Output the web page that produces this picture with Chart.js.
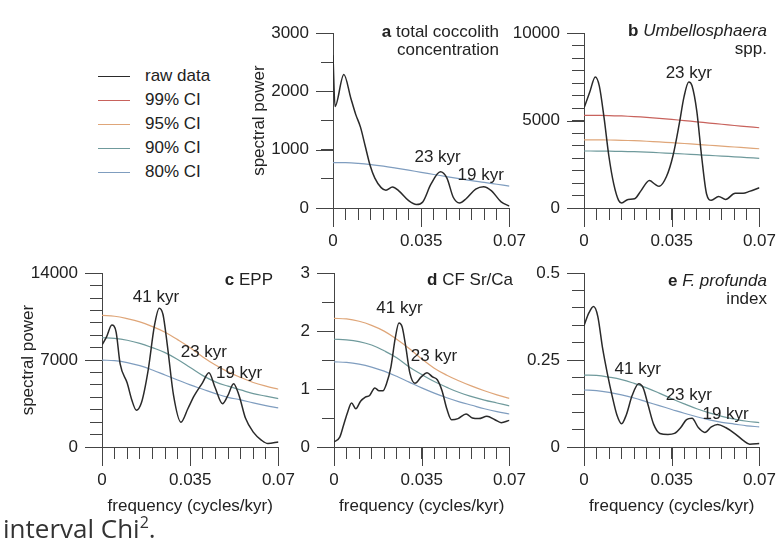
<!DOCTYPE html>
<html>
<head>
<meta charset="utf-8">
<script src="https://cdn.jsdelivr.net/npm/chart.js@4.4.0/dist/chart.umd.min.js"></script>
<style>
  body { margin: 0; background: #fff; }
  #page { position: relative; width: 782px; height: 547px; overflow: hidden; font-family: "Liberation Sans", Arial, sans-serif; color: #222; }
  #page canvas { position: absolute; }
  .tag { position: absolute; font-size: 17px; line-height: 18px; text-align: right; white-space: nowrap; }
  .legend { position: absolute; left: 98px; top: 64px; font-size: 17px; }
  .legend div { height: 24px; line-height: 24px; white-space: nowrap; }
  .legend span { display: inline-block; width: 32px; height: 0; border-top: 1.5px solid; vertical-align: middle; margin-right: 15px; }
  .caption { position: absolute; left: 3px; top: 510px; font-family: "Open Sans", sans-serif; font-size: 26px; color: #333; }
  .caption sup { font-size: 16px; }
</style>
</head>
<body>
<div id="page">
  <canvas id="pa"></canvas>
  <canvas id="pb"></canvas>
  <canvas id="pc"></canvas>
  <canvas id="pd"></canvas>
  <canvas id="pe"></canvas>

  <div class="legend" id="legend"></div>

  <div class="tag" style="right:283px;top:23px"><b>a</b> total coccolith<br>concentration</div>
  <div class="tag" style="right:15px;top:22px"><b>b</b> <i>Umbellosphaera</i><br>spp.</div>
  <div class="tag" style="right:509px;top:271px"><b>c</b> EPP</div>
  <div class="tag" style="right:269px;top:271px"><b>d</b> CF Sr/Ca</div>
  <div class="tag" style="right:15px;top:272px"><b>e</b> <i>F. profunda</i><br>index</div>

  <div class="caption">interval Chi<sup>2</sup>.</div>
</div>

<script>
// frequency axis (cycles/kyr)
const xTicks = [0, 0.035, 0.07];
const xTickLabels = ['0', '0.035', '0.07'];

// confidence-level curves share one frequency grid
const ciFreq = [0, 0.005, 0.01, 0.015, 0.02, 0.025, 0.03, 0.035, 0.04, 0.045, 0.05, 0.055, 0.06, 0.065, 0.07];

// a: total coccolith concentration
const aFreq = [0, 0.0008, 0.0043, 0.0071, 0.009, 0.0109, 0.0128, 0.0147, 0.0166, 0.0191, 0.021, 0.0236, 0.0261, 0.0299, 0.0331, 0.0356, 0.0388, 0.0426, 0.0452, 0.0477, 0.0502, 0.0528, 0.0566, 0.0597, 0.0629, 0.0667, 0.07];
const aRaw = [2620, 1743, 2290, 1880, 1607, 1388, 1060, 733, 513, 350, 306, 360, 295, 131, 60, 104, 404, 623, 513, 185, 87, 159, 323, 366, 295, 104, 33];
const a80 = [780, 778, 765, 745, 718, 685, 650, 612, 575, 540, 505, 470, 440, 408, 377];
const aYTicks = [0, 1000, 2000, 3000];
const aYTickLabels = ['0', '1000', '2000', '3000'];

// b: Umbellosphaera spp.
const bFreq = [0, 0.0023, 0.0045, 0.0061, 0.008, 0.0099, 0.0119, 0.0138, 0.015, 0.0176, 0.0202, 0.0227, 0.0261, 0.0284, 0.03, 0.0329, 0.0355, 0.038, 0.0399, 0.0418, 0.0431, 0.045, 0.0469, 0.0489, 0.0508, 0.0537, 0.0565, 0.0603, 0.0635, 0.066, 0.07];
const bRaw = [5720, 6630, 7500, 6990, 5170, 2990, 1350, 437, 290, 490, 530, 980, 1570, 1350, 1240, 1800, 2990, 4810, 6360, 7210, 6990, 5540, 2990, 800, 440, 660, 490, 840, 840, 950, 1160];
const b99 = [5300, 5298, 5290, 5265, 5230, 5185, 5130, 5070, 5000, 4930, 4860, 4790, 4720, 4655, 4590];
const b95 = [3900, 3898, 3890, 3872, 3850, 3818, 3780, 3738, 3690, 3640, 3590, 3540, 3490, 3440, 3390];
const b90 = [3260, 3258, 3250, 3237, 3220, 3192, 3160, 3125, 3090, 3050, 3010, 2970, 2930, 2885, 2840];
const bYTicks = [0, 5000, 10000];
const bYTickLabels = ['0', '5000', '10000'];

// c: EPP
const cFreq = [0, 0.0018, 0.0039, 0.0056, 0.0072, 0.01, 0.0119, 0.0136, 0.0157, 0.0183, 0.0208, 0.0227, 0.0242, 0.0259, 0.0284, 0.0313, 0.0341, 0.0366, 0.0398, 0.0424, 0.0449, 0.0478, 0.0499, 0.0522, 0.0544, 0.0569, 0.0601, 0.0633, 0.0658, 0.07];
const cRaw = [8230, 8870, 9820, 9260, 6690, 5150, 3740, 2970, 3610, 6180, 9770, 11180, 10670, 8230, 4130, 2000, 3100, 4130, 5150, 5980, 4770, 3490, 4130, 5100, 4130, 2330, 1180, 540, 280, 410];
const c95 = [10600, 10530, 10340, 10080, 9700, 9250, 8650, 8000, 7250, 6600, 6050, 5600, 5200, 4900, 4650];
const c90 = [8800, 8750, 8600, 8350, 8000, 7600, 7050, 6400, 5750, 5250, 4900, 4600, 4300, 4100, 3900];
const c80 = [7000, 6950, 6800, 6550, 6200, 5800, 5400, 5000, 4650, 4300, 4000, 3800, 3550, 3330, 3150];
const cYTicks = [0, 7000, 14000];
const cYTickLabels = ['0', '7000', '14000'];

// d: CF Sr/Ca
const dFreq = [0, 0.0023, 0.0039, 0.0055, 0.007, 0.0087, 0.0106, 0.0125, 0.0142, 0.0163, 0.018, 0.0195, 0.021, 0.0227, 0.0244, 0.0259, 0.0272, 0.0287, 0.0303, 0.0323, 0.0348, 0.0371, 0.0393, 0.0412, 0.0431, 0.045, 0.0469, 0.0495, 0.0527, 0.0552, 0.0578, 0.061, 0.0642, 0.0667, 0.07];
const dRaw = [0.088, 0.17, 0.39, 0.61, 0.76, 0.66, 0.79, 0.86, 0.89, 1.02, 0.97, 0.97, 1.10, 1.38, 1.87, 2.14, 2.07, 1.71, 1.27, 1.10, 1.21, 1.28, 1.21, 1.16, 0.97, 0.66, 0.47, 0.49, 0.57, 0.50, 0.49, 0.53, 0.47, 0.42, 0.46];
const d95 = [2.22, 2.21, 2.17, 2.10, 2.00, 1.86, 1.70, 1.52, 1.36, 1.24, 1.14, 1.05, 0.97, 0.90, 0.84];
const d90 = [1.86, 1.85, 1.82, 1.76, 1.66, 1.54, 1.38, 1.25, 1.13, 1.03, 0.94, 0.87, 0.81, 0.76, 0.71];
const d80 = [1.47, 1.46, 1.43, 1.38, 1.31, 1.22, 1.12, 1.02, 0.93, 0.85, 0.78, 0.72, 0.66, 0.61, 0.57];
const dYTicks = [0, 1, 2, 3];
const dYTickLabels = ['0', '1', '2', '3'];

// e: F. profunda index
const eFreq = [0, 0.0019, 0.0038, 0.0055, 0.0074, 0.0093, 0.0112, 0.0131, 0.015, 0.0169, 0.0192, 0.0218, 0.0236, 0.0256, 0.0278, 0.0303, 0.0335, 0.0361, 0.0386, 0.0409, 0.0431, 0.0456, 0.0482, 0.0508, 0.0533, 0.0565, 0.0603, 0.0635, 0.0661, 0.07];
const eRaw = [0.349, 0.385, 0.404, 0.376, 0.285, 0.212, 0.148, 0.093, 0.067, 0.093, 0.148, 0.182, 0.170, 0.120, 0.065, 0.039, 0.036, 0.039, 0.056, 0.079, 0.083, 0.056, 0.042, 0.058, 0.065, 0.056, 0.038, 0.019, 0.008, 0.010];
const e90 = [0.207, 0.206, 0.201, 0.194, 0.183, 0.170, 0.155, 0.139, 0.124, 0.110, 0.098, 0.088, 0.080, 0.074, 0.070];
const e80 = [0.164, 0.162, 0.157, 0.150, 0.141, 0.130, 0.119, 0.108, 0.097, 0.087, 0.078, 0.071, 0.066, 0.061, 0.058];
const eYTicks = [0, 0.25, 0.5];
const eYTickLabels = ['0', '0.25', '0.5'];

const legendNames = ['raw data', '99% CI', '95% CI', '90% CI', '80% CI'];

const axisColor = '#444';
const textColor = '#222';
const colors = { raw: '#2a2a2a', ci99: '#c8625c', ci95: '#dfa679', ci90: '#6f9a9c', ci80: '#7f9dbf' };

Chart.defaults.font.family = '"Liberation Sans", Arial, sans-serif';
Chart.defaults.font.size = 17;
Chart.defaults.color = textColor;

// legend block
const legendColors = [colors.raw, colors.ci99, colors.ci95, colors.ci90, colors.ci80];
document.getElementById('legend').innerHTML = legendNames
  .map((n, i) => '<div><span style="border-color:' + legendColors[i] + '"></span>' + n + '</div>')
  .join('');

function pts(xs, ys) {
  return xs.map((x, i) => ({ x: x, y: ys[i] }));
}

function labelFor(v, vals, labels, span) {
  for (let i = 0; i < vals.length; i++) {
    if (Math.abs(v - vals[i]) < span * 1e-6) return labels[i];
  }
  return '';
}

function evenTicks(max, count) {
  const out = [];
  for (let i = 0; i <= count; i++) out.push({ value: max * i / count });
  return out;
}

// long ticks at labelled values + peak annotations
function marks(yTicks, peaks) {
  return {
    id: 'marks',
    afterDraw(chart) {
      const { ctx, chartArea, scales } = chart;
      ctx.save();
      ctx.strokeStyle = axisColor;
      ctx.lineWidth = 1;
      ctx.beginPath();
      xTicks.forEach(v => {
        const px = Math.round(scales.x.getPixelForValue(v)) + 0.5;
        ctx.moveTo(px, chartArea.bottom);
        ctx.lineTo(px, chartArea.bottom + 19);
      });
      yTicks.forEach(v => {
        const py = Math.round(scales.y.getPixelForValue(v)) + 0.5;
        ctx.moveTo(chartArea.left, py);
        ctx.lineTo(chartArea.left - 17, py);
      });
      ctx.stroke();
      ctx.fillStyle = textColor;
      ctx.font = '17px "Liberation Sans", Arial, sans-serif';
      ctx.textAlign = 'center';
      ctx.textBaseline = 'middle';
      peaks.forEach(p => {
        ctx.fillText(p[0], scales.x.getPixelForValue(p[1]), scales.y.getPixelForValue(p[2]));
      });
      ctx.restore();
    }
  };
}

function ciSet(values, color) {
  return { data: pts(ciFreq, values), borderColor: color, borderWidth: 1.2, pointRadius: 0, tension: 0.4, order: 2 };
}

function panel(p) {
  const [L, T, R, B] = p.rect;
  const yw = 84, pt = 14, pr = 20, xh = p.xTitle ? 70 : 50;
  const cv = document.getElementById(p.id);
  cv.width = yw + (R - L) + pr;
  cv.height = pt + (B - T) + xh;
  cv.style.left = (L - yw) + 'px';
  cv.style.top = (T - pt) + 'px';

  const sets = [{ data: pts(p.freq, p.raw), borderColor: colors.raw, borderWidth: 1.5, pointRadius: 0, cubicInterpolationMode: 'monotone', order: 1 }]
    .concat(p.ci.map(c => ciSet(c[0], c[1])));

  return new Chart(cv, {
    type: 'line',
    data: { datasets: sets },
    options: {
      responsive: false,
      animation: false,
      events: [],
      layout: { padding: { top: pt, right: pr, left: 0, bottom: 0 } },
      plugins: { legend: { display: false }, tooltip: { enabled: false } },
      scales: {
        x: {
          type: 'linear', min: 0, max: 0.07,
          afterBuildTicks: s => { s.ticks = evenTicks(0.07, 14); },
          afterFit: s => { s.height = xh; },
          ticks: { autoSkip: false, maxRotation: 0, padding: 11, callback: v => labelFor(v, xTicks, xTickLabels, 0.07) },
          grid: { drawOnChartArea: false, tickLength: 12, tickColor: axisColor },
          border: { color: axisColor },
          title: { display: !!p.xTitle, text: 'frequency (cycles/kyr)', padding: 0 }
        },
        y: {
          type: 'linear', min: 0, max: p.yMax,
          afterBuildTicks: s => { s.ticks = evenTicks(p.yMax, p.yCount); },
          afterFit: s => { s.width = yw; },
          ticks: { autoSkip: false, padding: 12, callback: v => labelFor(v, p.yTicks, p.yTickLabels, p.yMax) },
          grid: { drawOnChartArea: false, tickLength: 12, tickColor: axisColor },
          border: { color: axisColor },
          title: { display: !!p.yTitle, text: 'spectral power', padding: 0 }
        }
      }
    },
    plugins: [marks(p.yTicks, p.peaks)]
  });
}

panel({ id: 'pa', rect: [333, 25, 517, 208], yMax: 3000, yCount: 6, yTicks: aYTicks, yTickLabels: aYTickLabels,
  freq: aFreq, raw: aRaw, ci: [[a80, colors.ci80]], yTitle: true,
  peaks: [['23 kyr', 0.0415, 869], ['19 kyr', 0.0586, 557]] });

panel({ id: 'pb', rect: [584, 25, 767, 208], yMax: 10000, yCount: 14, yTicks: bYTicks, yTickLabels: bYTickLabels,
  freq: bFreq, raw: bRaw, ci: [[b99, colors.ci99], [b95, colors.ci95], [b90, colors.ci90]],
  peaks: [['23 kyr', 0.0418, 7720]] });

panel({ id: 'pc', rect: [102, 265, 286, 447], yMax: 14000, yCount: 14, yTicks: cYTicks, yTickLabels: cYTickLabels,
  freq: cFreq, raw: cRaw, ci: [[c95, colors.ci95], [c90, colors.ci90], [c80, colors.ci80]], yTitle: true, xTitle: true,
  peaks: [['41 kyr', 0.0214, 12077], ['23 kyr', 0.0404, 7590], ['19 kyr', 0.0544, 5920]] });

panel({ id: 'pd', rect: [334, 265, 517, 447], yMax: 3, yCount: 6, yTicks: dYTicks, yTickLabels: dYTickLabels,
  freq: dFreq, raw: dRaw, ci: [[d95, colors.ci95], [d90, colors.ci90], [d80, colors.ci80]], xTitle: true,
  peaks: [['41 kyr', 0.0261, 2.395], ['23 kyr', 0.0399, 1.571]] });

panel({ id: 'pe', rect: [584, 265, 767, 447], yMax: 0.5, yCount: 10, yTicks: eYTicks, yTickLabels: eYTickLabels,
  freq: eFreq, raw: eRaw, ci: [[e90, colors.ci90], [e80, colors.ci80]], xTitle: true,
  peaks: [['41 kyr', 0.0214, 0.2225], ['23 kyr', 0.0418, 0.1475], ['19 kyr', 0.0565, 0.0926]] });
</script>
</body>
</html>
